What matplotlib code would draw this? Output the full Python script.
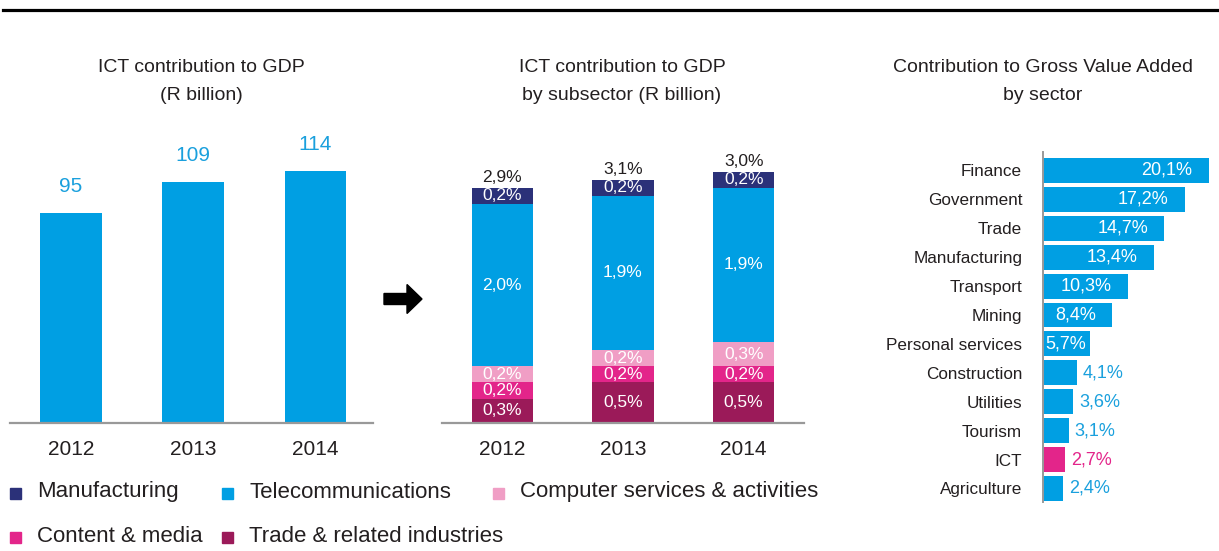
import numpy as np
import matplotlib
matplotlib.use("Agg")
import matplotlib.pyplot as plt
from matplotlib.patches import Rectangle, FancyArrow
from matplotlib.lines import Line2D

plt.rcParams['font.family'] = ['Liberation Sans', 'DejaVu Sans']

# --- data ---
years = ['2012', '2013', '2014']
gdp_rbillion = [95, 109, 114]

subsectors = ['Trade & related industries', 'Content & media',
              'Computer services & activities', 'Telecommunications', 'Manufacturing']
sub_values = {
    'Trade & related industries': [0.3, 0.5, 0.5],
    'Content & media': [0.2, 0.2, 0.2],
    'Computer services & activities': [0.2, 0.2, 0.3],
    'Telecommunications': [2.0, 1.9, 1.9],
    'Manufacturing': [0.2, 0.2, 0.2],
}
sub_totals = [2.9, 3.1, 3.0]

sectors = ['Finance', 'Government', 'Trade', 'Manufacturing', 'Transport', 'Mining',
           'Personal services', 'Construction', 'Utilities', 'Tourism', 'ICT', 'Agriculture']
gva_share = [20.1, 17.2, 14.7, 13.4, 10.3, 8.4, 5.7, 4.1, 3.6, 3.1, 2.7, 2.4]

titles = [
    ('ICT contribution to GDP', '(R billion)'),
    ('ICT contribution to GDP', 'by subsector (R billion)'),
    ('Contribution to Gross Value Added', 'by sector'),
]

# --- style ---
BLUE = '#009FE3'
LBLUE = '#1AA0DD'
colors = {
    'Manufacturing': '#2B3179',
    'Telecommunications': BLUE,
    'Computer services & activities': '#F09EC5',
    'Content & media': '#E3258A',
    'Trade & related industries': '#9B1A59',
}
TXT = '#231F20'
W, H = 1219, 551


def fr(x0, y_bottom, w, h):
    # pixel box (top-origin) -> figure fraction
    return [x0 / W, (H - y_bottom) / H, w / W, h / H]


def pct(v):
    return f"{v:.1f}%".replace('.', ',')


fig = plt.figure(figsize=(W / 100, H / 100), dpi=100)

# top rule
fig.add_artist(Line2D([3 / W, 1], [1 - 9.5 / H, 1 - 9.5 / H], color='black', lw=2.3))

# ---------- chart 1 ----------
ax1 = fig.add_axes(fr(10, 423, 363, 287))
x = np.arange(len(years))
ax1.bar(x, gdp_rbillion, width=0.506, color=BLUE)
for xi, v in zip(x, gdp_rbillion):
    ax1.text(xi, v + 12, str(v), ha='center', va='center', color=LBLUE, fontsize=15)
ax1.set_xlim(-0.5, 2.47)
ax1.set_ylim(0, 130)
ax1.set_xticks(x)
ax1.set_xticklabels(years, fontsize=15, color=TXT)
ax1.tick_params(axis='x', length=0, pad=12)
ax1.set_yticks([])
for s in ['top', 'right', 'left']:
    ax1.spines[s].set_visible(False)
ax1.spines['bottom'].set_color('#999999')
ax1.spines['bottom'].set_linewidth(1.6)

# ---------- chart 2 ----------
ax2 = fig.add_axes(fr(442, 423, 362, 292))
bottom = np.zeros(len(years))
for name in subsectors:
    vals = np.array(sub_values[name])
    ax2.bar(x, vals, bottom=bottom, width=0.51, color=colors[name])
    for xi, b, v in zip(x, bottom, vals):
        ax2.text(xi, b + v / 2, pct(v), ha='center', va='center', color='white', fontsize=12.5)
    bottom += vals
for xi, top, tot in zip(x, bottom, sub_totals):
    ax2.text(xi, top + 0.035, pct(tot), ha='center', va='bottom', color=TXT, fontsize=12.5)
ax2.set_xlim(-0.5, 2.5)
ax2.set_ylim(0, 3.6)
ax2.set_xticks(x)
ax2.set_xticklabels(years, fontsize=15, color=TXT)
ax2.tick_params(axis='x', length=0, pad=12)
ax2.set_yticks([])
for s in ['top', 'right', 'left']:
    ax2.spines[s].set_visible(False)
ax2.spines['bottom'].set_color('#999999')
ax2.spines['bottom'].set_linewidth(1.6)

# arrow between the charts
fig.add_artist(FancyArrow(3.84, 2.52, 0.23, 0, width=0.11, head_width=0.29,
                          head_length=0.15, length_includes_head=False,
                          color='black', transform=fig.dpi_scale_trans))

# ---------- chart 3 ----------
ax3 = fig.add_axes(fr(1043, 502, 176, 350))
y = np.arange(len(sectors))
bar_cols = [colors['Content & media'] if s == 'ICT' else BLUE for s in sectors]
ax3.barh(y, gva_share, height=0.86, color=bar_cols)
for yi, v, c in zip(y, gva_share, bar_cols):
    if v >= 8:
        ax3.text(v - 2.0, yi, pct(v), ha='right', va='center', color='white', fontsize=13)
    elif v >= 5:
        ax3.text(0.3, yi, pct(v), ha='left', va='center', color='white', fontsize=13)
    else:
        ax3.text(v + 0.75, yi, pct(v), ha='left', va='center',
                 color=c if c != BLUE else LBLUE, fontsize=13)
ax3.set_xlim(0, 21.3)
ax3.set_ylim(11.47, -0.64)
ax3.set_yticks(y)
ax3.set_yticklabels(sectors, fontsize=12.3, color=TXT)
ax3.tick_params(axis='y', length=0, pad=15)
ax3.set_xticks([])
for s in ['top', 'right', 'bottom']:
    ax3.spines[s].set_visible(False)
ax3.spines['left'].set_color('#999999')
ax3.spines['left'].set_linewidth(1.4)

# ---------- titles ----------
for cx, (l1, l2) in zip([201, 622, 1043], titles):
    fig.text(cx / W, 1 - 72 / H, l1, ha='center', va='baseline', fontsize=14, color=TXT)
    fig.text(cx / W, 1 - 100 / H, l2, ha='center', va='baseline', fontsize=14, color=TXT)

# ---------- legend ----------
legend_items = [
    ('Manufacturing', 10, 493),
    ('Telecommunications', 222, 493),
    ('Computer services & activities', 493, 493),
    ('Content & media', 10, 537),
    ('Trade & related industries', 222, 537),
]
for name, px, py in legend_items:
    fig.add_artist(Rectangle((px / W, 1 - (py + 5.5) / H), 11 / W, 11 / H,
                             color=colors[name], transform=fig.transFigure))
    fig.text((px + 27) / W, 1 - (py - 1) / H, name, ha='left', va='center',
             fontsize=16, color=TXT)

fig.savefig('out.png', dpi=100)
